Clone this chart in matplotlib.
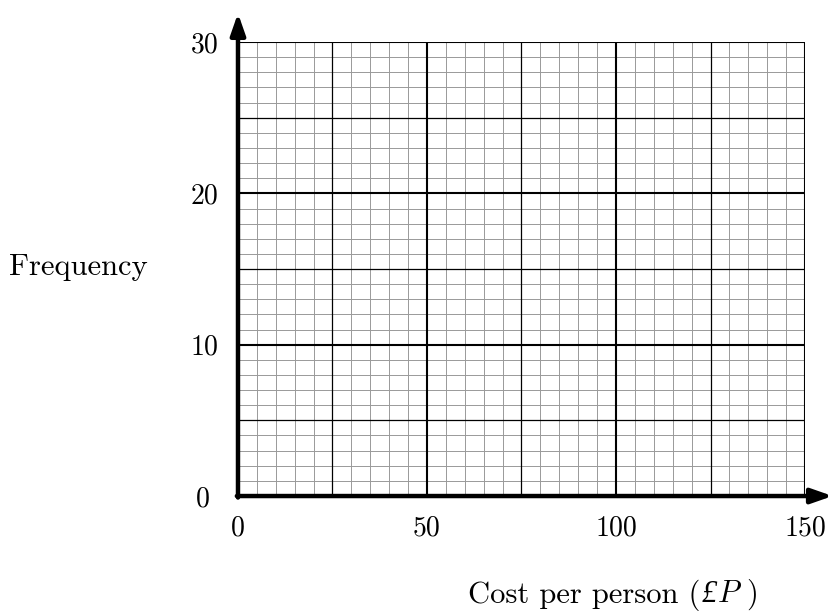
import matplotlib.pyplot as plt
import matplotlib.transforms as mtransforms
import numpy as np

# axis ranges and labelled ticks
x_max = 150
y_max = 30
x_ticks = [0, 50, 100, 150]
y_ticks = [0, 10, 20, 30]
x_minor_step = 5
y_minor_step = 1
x_mid_step = 25
y_mid_step = 5

plt.rcParams['font.family'] = ['cmr10', 'DejaVu Serif']
plt.rcParams['mathtext.fontset'] = 'cm'

fig = plt.figure(figsize=(8.33, 6.12), dpi=100)
ax = fig.add_axes([0.2857, 0.1895, 0.6807, 0.7418])
ax.set_xlim(0, x_max)
ax.set_ylim(0, y_max)

# graph paper: minor, mid and major lines
for xv in np.arange(0, x_max + 1, x_minor_step):
    if xv % x_ticks[1] == 0:
        ax.axvline(xv, color='black', lw=1.5, zorder=3)
    elif xv % x_mid_step == 0:
        ax.axvline(xv, color='black', lw=0.9, zorder=2)
    else:
        ax.axvline(xv, color='#999999', lw=0.7, zorder=1)
for yv in np.arange(0, y_max + 1, y_minor_step):
    if yv % y_ticks[1] == 0:
        ax.axhline(yv, color='black', lw=1.5, zorder=3)
    elif yv % y_mid_step == 0:
        ax.axhline(yv, color='black', lw=0.9, zorder=2)
    else:
        ax.axhline(yv, color='#999999', lw=0.7, zorder=1)

for s in ax.spines.values():
    s.set_visible(False)

# axes with arrows
arrow = dict(arrowstyle='-|>,head_length=0.8,head_width=0.28', lw=3.2, color='black',
             mutation_scale=16, shrinkA=0, shrinkB=0)
ax.annotate('', xy=(0, y_max + 1.9), xytext=(0, -0.1), arrowprops=arrow,
            annotation_clip=False, zorder=5)
ax.annotate('', xy=(x_max + 7.3, 0), xytext=(-0.3, 0), arrowprops=arrow,
            annotation_clip=False, zorder=5)

ax.set_xticks(x_ticks)
ax.set_yticks(y_ticks)
ax.set_xticklabels([str(v) for v in x_ticks])
ax.set_yticklabels([str(v) for v in y_ticks])
ax.tick_params(length=0, labelsize=20)
ax.tick_params(axis='x', pad=14)
ax.tick_params(axis='y', pad=14)
# the "0" on the y axis sits a little further left
zero = ax.get_yticklabels()[0]
zero.set_transform(zero.get_transform() +
                   mtransforms.ScaledTranslation(-6 / 72, 0, fig.dpi_scale_trans))

fig.text(0.1777, 0.5637, 'Frequency', fontsize=22, ha='right', va='center')

# x label in pieces, since cmr10 has no pound sign
renderer = fig.canvas.get_renderer()
pieces = [('Cost per person (', {}, 0.0),
          ('£', {'family': 'Liberation Serif', 'style': 'italic'}, 0.001),
          ('$P$ )', {}, 0.0)]
texts = []
x0 = 0.0
for s, kw, gap in pieces:
    x0 += gap
    t = fig.text(x0, 0.0278, s, fontsize=22, ha='left', va='center', **kw)
    bb = t.get_window_extent(renderer)
    texts.append(t)
    x0 += bb.width / fig.bbox.width
shift = 0.7359 - x0 / 2
for t in texts:
    t.set_x(t.get_position()[0] + shift)

fig.savefig('out.png', dpi=100)
